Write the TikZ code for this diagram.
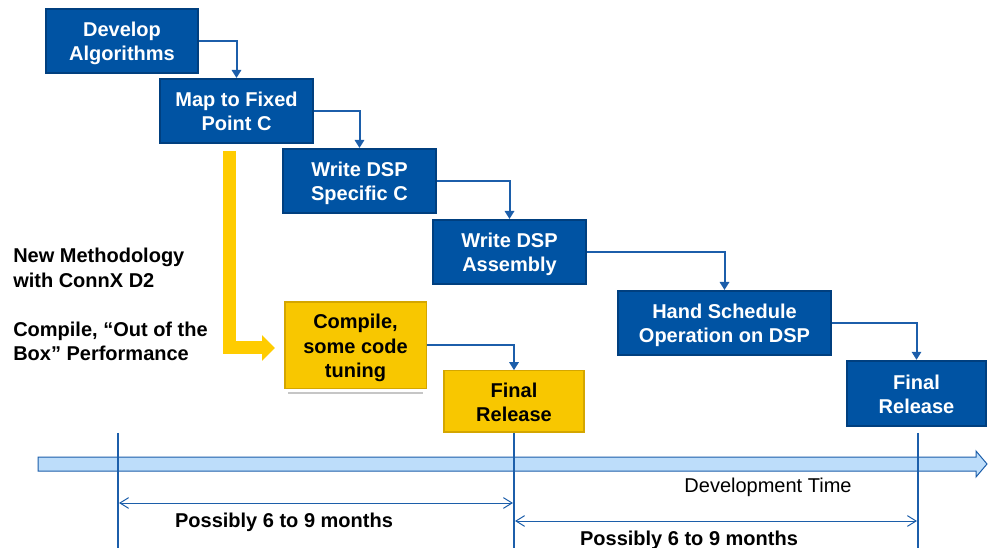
\documentclass[tikz,border=0pt]{standalone}
\usepackage{fontspec}
\setmainfont{Liberation Sans}
\usetikzlibrary{arrows.meta}
\definecolor{boxblue}{HTML}{0053A3}
\definecolor{boxborder}{HTML}{003F7F}
\definecolor{lineblue}{HTML}{1C5EAA}
\definecolor{boxyellow}{HTML}{F8C700}
\definecolor{yborder}{HTML}{D4A600}
\definecolor{arrowyellow}{HTML}{FFCC00}
\definecolor{timefill}{HTML}{BDDDFA}
\newcommand\boxtop{\rule{0pt}{15pt}}
\newcommand\boxbot{\rule[-3.5pt]{0pt}{3.5pt}}
\begin{document}
\begin{tikzpicture}[x=0.75pt,y=-0.75pt,
  boxfont/.style={font=\bfseries\fontsize{15}{18}\selectfont},
  bluebox/.style={boxfont, draw=boxborder, line width=1.5pt, fill=boxblue, text=white, align=center, inner sep=0pt},
  yellowbox/.style={boxfont, draw=yborder, line width=1pt, fill=boxyellow, text=black, align=center, inner sep=0pt},
  flow/.style={draw=lineblue, line width=1.5pt, -{Triangle[width=7pt,length=6pt]}},
  timeline/.style={draw=lineblue, line width=2pt},
  span/.style={draw=lineblue, line width=0.75pt, {Straight Barb[length=6.5pt,width=8pt]}-{Straight Barb[length=6.5pt,width=8pt]}},
  note/.style={font=\bfseries\fontsize{15}{18.5}\selectfont, align=left, anchor=west, inner sep=0pt},
  spanlabel/.style={font=\bfseries\fontsize{15}{18}\selectfont, inner sep=0pt},
  yarrow/.style={draw=arrowyellow, line width=9.75pt, line join=miter, -{Triangle[length=9.75pt,width=18.75pt]}}
]
\useasboundingbox (0,0) rectangle (988,548);

% blue flow boxes
\node[bluebox, minimum width=114pt, minimum height=48pt] (b1) at (122,41) {\boxtop Develop\\Algorithms\boxbot};
\node[bluebox, minimum width=115pt, minimum height=48pt] (b2) at (236.5,111) {\boxtop Map to Fixed\\Point C\boxbot};
\node[bluebox, minimum width=115pt, minimum height=48pt] (b3) at (359.5,181) {\boxtop Write DSP\\Specific C\boxbot};
\node[bluebox, minimum width=115pt, minimum height=48pt] (b4) at (509.5,252) {\boxtop Write DSP\\Assembly\boxbot};
\node[bluebox, minimum width=160pt, minimum height=48pt] (b5) at (724.5,323) {\boxtop Hand Schedule\\Operation on DSP\boxbot};
\node[bluebox, minimum width=104pt, minimum height=49pt] (b6) at (916.5,393.5) {\boxtop Final\\Release\boxbot};

% yellow boxes
\node[yellowbox, minimum width=106pt, minimum height=65pt, font=\bfseries\fontsize{15}{18.5}\selectfont] (y1) at (355.5,345.5) {\boxtop Compile,\\some code\\tuning\boxbot};
\node[yellowbox, minimum width=105pt, minimum height=46pt] (y2) at (514,401.5) {\boxtop Final\\Release\boxbot};
\draw[gray!45, line width=1.5pt] ([xshift=3pt,yshift=-3pt]y1.south west) -- ([xshift=-3pt,yshift=-3pt]y1.south east);

% connectors
\draw[flow] (b1.east) -| (b2.north);
\draw[flow] (b2.east) -| (b3.north);
\draw[flow] (b3.east) -| (b4.north);
\draw[flow] (b4.east) -| (b5.north);
\draw[flow] (b5.east) -| (b6.north);
\draw[flow] (y1.east) -| (y2.north);

% big yellow arrow
\coordinate (ystart) at (229.5,151);
\coordinate (yend) at (275,348);
\draw[yarrow] (ystart) |- (yend);

% left notes
\node[note] (n1) at (13,268) {New Methodology\\with ConnX D2};
\node[note] (n2) at (13,341.5) {Compile, “Out of the\\Box” Performance};

% time axis
\draw[draw=lineblue, fill=timefill, line width=0.75pt]
  (38,457) -- (976,457) -- (976,451) -- (987,464) -- (976,477) -- (976,471) -- (38,471) -- cycle;

% milestone lines
\coordinate (m1t) at (118,433); \coordinate (m1b) at (118,548);
\coordinate (m2t) at (514,433); \coordinate (m2b) at (514,548);
\coordinate (m3t) at (918,433); \coordinate (m3b) at (918,548);
\draw[timeline] (m1t) -- (m1b);
\draw[timeline] (m2t) -- (m2b);
\draw[timeline] (m3t) -- (m3b);

% spans
\coordinate (s1a) at (119,503); \coordinate (s1b) at (513,503);
\coordinate (s2a) at (515,521); \coordinate (s2b) at (917,521);
\draw[span] (s1a) -- (s1b);
\draw[span] (s2a) -- (s2b);

\node[spanlabel] (l1) at (284,522) {Possibly 6 to 9 months};
\node[spanlabel] (l2) at (689,540) {Possibly 6 to 9 months};
\node[font=\fontsize{15}{18}\selectfont, inner sep=0pt] (dt) at (768,487) {Development Time};
\end{tikzpicture}
\end{document}
